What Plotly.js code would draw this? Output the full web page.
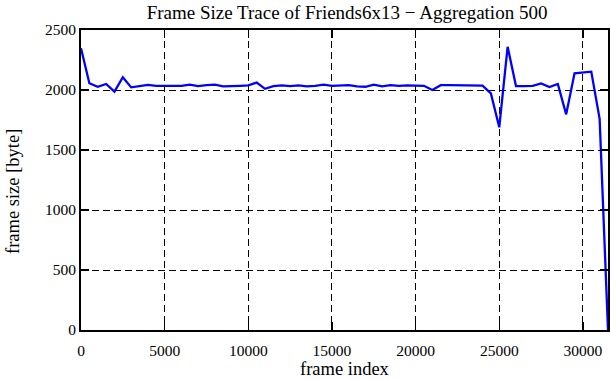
<!DOCTYPE html>
<html>
<head>
<meta charset="utf-8">
<script src="https://cdn.plot.ly/plotly-3.0.1.min.js"></script>
<style>html,body{margin:0;padding:0;background:#fff;}#chart{width:611px;height:380px;}</style>
</head>
<body>
<div id="chart"></div>
<script>
var frameIndex = [0,500,1000,1500,2000,2500,3000,3500,4000,4500,5000,5500,6000,6500,7000,7500,
  8000,8500,9000,9500,10000,10500,11000,11500,12000,12500,13000,13500,14000,14500,15000,15500,
  16000,16500,17000,17500,18000,18500,19000,19500,20000,20500,21000,21500,22000,22500,23000,23500,
  24000,24500,25000,25500,26000,26500,27000,27500,28000,28500,29000,29500,30000,30500,31000,31500];
var frameSize = [2347,2056,2027,2050,1986,2106,2022,2035,2042,2035,2033,2033,2035,2044,2033,2040,
  2044,2030,2035,2035,2038,2062,2010,2032,2038,2033,2038,2030,2035,2044,2035,2035,
  2040,2030,2027,2044,2030,2040,2035,2038,2038,2035,2000,2040,2040,2038,2035,2035,
  2036,1972,1689,2360,2033,2033,2035,2055,2025,2050,1797,2139,2147,2153,1760,0];
var xTicks = [0,5000,10000,15000,20000,25000,30000];
var yTicks = [0,500,1000,1500,2000,2500];

var fam = '"Liberation Serif", "Times New Roman", serif';
var tickFont = {family: fam, size: 15.5, color: '#000'};
var titleFont = {family: fam, size: 18.5, color: '#000'};

var trace = {
  x: frameIndex, y: frameSize, type: 'scatter', mode: 'lines',
  line: {color: '#0000ff', width: 2.3}
};

var axisCommon = {
  showline: true, linecolor: '#000', linewidth: 2, mirror: 'ticks',
  ticks: 'inside', ticklen: 8, tickwidth: 1.5, tickcolor: '#000',
  showgrid: true, gridcolor: '#000', griddash: '7px,4px', gridwidth: 1,
  zeroline: false, tickfont: tickFont
};

var layout = {
  width: 611, height: 380,
  margin: {l: 81, r: 3, t: 30, b: 50},
  paper_bgcolor: '#fff', plot_bgcolor: '#fff',
  showlegend: false,
  font: tickFont,
  title: {text: 'Frame Size Trace of Friends6x13 \u2212 Aggregation 500', font: {family: fam, size: 19, color: '#000'}, x: 0.568, xanchor: 'center', y: 0.968, yanchor: 'middle'},
  xaxis: Object.assign({}, axisCommon, {
    range: [0, 31500], tickvals: xTicks, ticktext: xTicks.map(String), ticklabelstandoff: 5
  }),
  yaxis: Object.assign({}, axisCommon, {
    range: [0, 2500], tickvals: yTicks, ticktext: yTicks.map(String)
  }),
  annotations: [
    {text: 'frame index', font: titleFont, showarrow: false,
     xref: 'paper', yref: 'paper', x: (345 - 81) / 527, y: (330 - 368.5) / 300,
     xanchor: 'center', yanchor: 'middle'},
    {text: 'frame size [byte]', font: titleFont, showarrow: false, textangle: -90,
     xref: 'paper', yref: 'paper', x: (13 - 81) / 527, y: (330 - 192) / 300,
     xanchor: 'center', yanchor: 'middle'}
  ]
};

Plotly.newPlot('chart', [trace], layout, {displayModeBar: false, staticPlot: true});
</script>
</body>
</html>
